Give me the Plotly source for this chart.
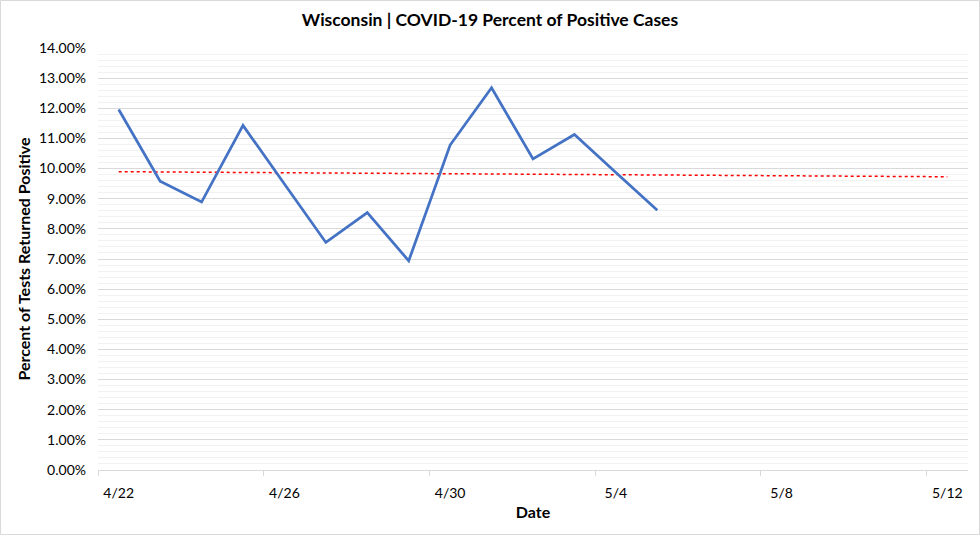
import numpy as np
import pandas as pd
import plotly.graph_objects as go

# ---- data ----
dates = ["2020-04-22", "2020-04-23", "2020-04-24", "2020-04-25", "2020-04-26",
         "2020-04-27", "2020-04-28", "2020-04-29", "2020-04-30", "2020-05-01",
         "2020-05-02", "2020-05-03", "2020-05-04", "2020-05-05"]
pct_positive = [11.96, 9.58, 8.89, 11.43, 9.49, 7.55, 8.54, 6.94,
                10.78, 12.68, 10.32, 11.13, 9.87, 8.62]
trend_end_date = "2020-05-12"
tick_dates = ["2020-04-22", "2020-04-26", "2020-04-30", "2020-05-04", "2020-05-08", "2020-05-12"]
tick_labels = ["4/22", "4/26", "4/30", "5/4", "5/8", "5/12"]

# ---- linear trendline (Excel-style, forecast forward) ----
d = pd.to_datetime(dates)
day_idx = (d - d[0]).days.values
vals = np.array(pct_positive) / 100.0
slope, intercept = np.polyfit(day_idx, vals, 1)
t_end = (pd.Timestamp(trend_end_date) - d[0]).days
trend_x = [d[0], pd.Timestamp(trend_end_date)]
trend_y = [intercept, intercept + slope * t_end]

FONT = "Lato"
W, H = 980, 535
L, R, T, B = 98, 12, 48, 65

fig = go.Figure()
fig.add_trace(go.Scatter(x=trend_x, y=trend_y, mode="lines",
                         line=dict(color="#FF0000", width=1.5, dash="dot"),
                         hoverinfo="skip", showlegend=False))
fig.add_trace(go.Scatter(x=d, y=vals, mode="lines",
                         line=dict(color="#4472C4", width=2.75),
                         showlegend=False))

pw = W - L - R
ph = H - T - B
fig.add_shape(type="rect", xref="paper", yref="paper",
              x0=-(L - 0.5) / pw, x1=1 + (R - 0.5) / pw,
              y0=-(B - 0.5) / ph, y1=1 + (T - 0.5) / ph,
              line=dict(color="#d9d9d9", width=1), layer="below")

fig.update_layout(
    width=W, height=H,
    margin=dict(l=L, r=R, t=T, b=B, autoexpand=False),
    paper_bgcolor="white", plot_bgcolor="white",
    font=dict(family=FONT, color="#000000", size=14),
    title=dict(text="Wisconsin | COVID-19 Percent of Positive Cases",
               x=0.5, xanchor="center", xref="container",
               y=1 - 20 / H, yanchor="middle",
               font=dict(family=FONT, size=17.5, weight="bold", color="#000000")),
    xaxis=dict(
        type="date", automargin=False,
        range=["2020-04-21 12:00", "2020-05-12 12:00"],
        tickvals=tick_dates, ticktext=tick_labels,
        ticks="", showgrid=False, zeroline=False,
        showline=True, linecolor="#d9d9d9", linewidth=1,
        ticklabelstandoff=10,
        tickfont=dict(family=FONT, size=14, color="#000000"),
        minor=dict(ticks="outside", tick0="2020-04-21 12:00", dtick=4 * 86400000,
                   ticklen=5, tickcolor="#d9d9d9", tickwidth=1, showgrid=False),
        title=dict(text="Date", standoff=7,
                   font=dict(family=FONT, size=16, weight="bold", color="#000000")),
    ),
    yaxis=dict(
        range=[0, 0.14], dtick=0.01, tickformat=".2%", automargin=False,
        showgrid=True, gridcolor="#d9d9d9", gridwidth=1,
        zeroline=False, showline=False, ticks="",
        ticklabelstandoff=11,
        tickfont=dict(family=FONT, size=14, color="#000000"),
        minor=dict(dtick=0.002, showgrid=True, gridcolor="#f2f2f2", gridwidth=1),
        title=dict(text="Percent of Tests Returned Positive", standoff=4,
                   font=dict(family=FONT, size=16, weight="bold", color="#000000")),
    ),
)

fig.write_html("out.html",
               config={"displayModeBar": False},
               post_script="document.body.style.margin='0';document.body.style.overflow='hidden';")
